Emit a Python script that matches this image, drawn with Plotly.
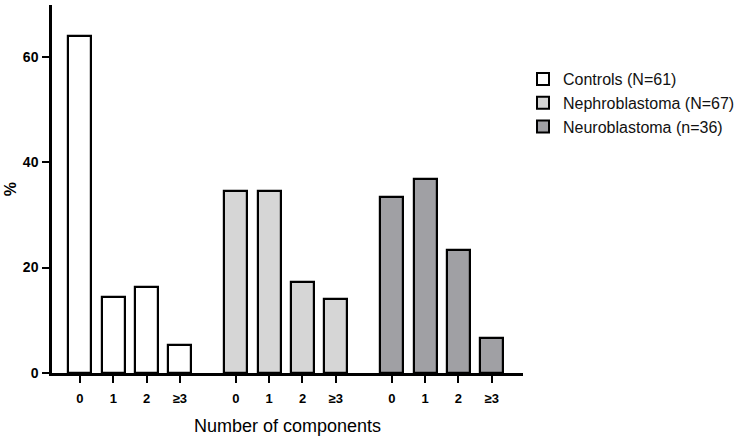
import plotly.graph_objects as go

categories = ["0", "1", "2", "≥3"]
series_names = ["Controls (N=61)", "Nephroblastoma (N=67)", "Neuroblastoma (n=36)"]
controls = [63.9, 14.5, 16.4, 5.4]
nephroblastoma = [34.5, 34.5, 17.2, 14.1]
neuroblastoma = [33.3, 36.8, 23.3, 6.6]
y_ticks = [0, 20, 40, 60]

series_values = [controls, nephroblastoma, neuroblastoma]
colors = ["#ffffff", "#d6d6d6", "#a0a0a4"]
group_gap = 0.68

fig = go.Figure()
tickvals, ticktext = [], []
for g, (name, vals, col) in enumerate(zip(series_names, series_values, colors)):
    xs = [g * (len(categories) + group_gap) + i for i in range(len(categories))]
    tickvals += xs
    ticktext += categories
    fig.add_trace(go.Bar(
        x=xs, y=vals, name=name, width=0.69,
        marker=dict(color=col, line=dict(color="black", width=2.2)),
    ))

fig.update_layout(
    width=747, height=440,
    margin=dict(l=52, r=224, t=5, b=67, autoexpand=False),
    plot_bgcolor="white", paper_bgcolor="white",
    font=dict(family="Liberation Sans, Arial, sans-serif", color="black"),
    showlegend=True,
    legend=dict(x=1.0, xanchor="left", y=0.845, yanchor="top",
                font=dict(size=16, color="#111"), tracegroupgap=0,
                itemsizing="constant", bgcolor="rgba(0,0,0,0)"),
    bargap=0,
)
fig.update_xaxes(
    range=[-0.84, 13.3], tickvals=tickvals, ticktext=ticktext,
    showline=True, linecolor="black", linewidth=2.5,
    ticks="outside", ticklen=7, tickwidth=2, tickcolor="black",
    tickfont=dict(size=13, weight="bold"), ticklabelstandoff=5,
    showgrid=False, zeroline=False, automargin=False,
    title=dict(text="Number of components", font=dict(size=18), standoff=15),
)
fig.update_yaxes(
    range=[0, 69.8], tickvals=y_ticks,
    showline=True, linecolor="black", linewidth=2.5,
    ticks="outside", ticklen=7, tickwidth=2, tickcolor="black",
    tickfont=dict(size=14, weight="bold"), ticklabelstandoff=1,
    showgrid=False, zeroline=False, automargin=False,
    title=dict(text="%", font=dict(size=16, weight="bold"), standoff=3),
)
fig.write_html("out.html", config={"displayModeBar": False},
               post_script="document.body.style.margin='0';")
